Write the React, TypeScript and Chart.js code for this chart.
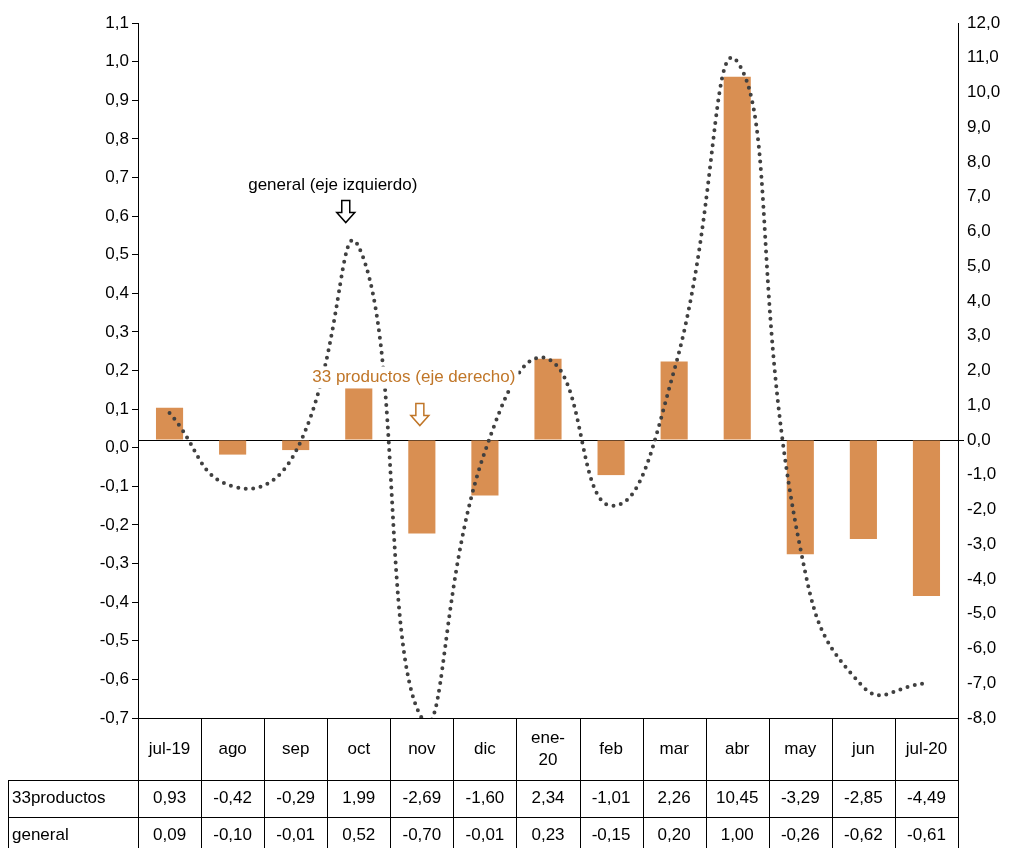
import React, { useEffect, useRef } from 'react';
import { Chart, registerables } from 'chart.js';

Chart.register(...registerables);

const categories = ['jul-19', 'ago', 'sep', 'oct', 'nov', 'dic', 'ene-20', 'feb', 'mar', 'abr', 'may', 'jun', 'jul-20'];
const headerLabels = [['jul-19'], ['ago'], ['sep'], ['oct'], ['nov'], ['dic'], ['ene-', '20'], ['feb'], ['mar'], ['abr'], ['may'], ['jun'], ['jul-20']];
const productos33 = [0.93, -0.42, -0.29, 1.99, -2.69, -1.6, 2.34, -1.01, 2.26, 10.45, -3.29, -2.85, -4.49];
const general = [0.09, -0.1, -0.01, 0.52, -0.7, -0.01, 0.23, -0.15, 0.2, 1.0, -0.26, -0.62, -0.61];

const FONT = '"Liberation Sans Narrow", "Arial Narrow", Arial, sans-serif';
const ORANGE = '#d98f52';
const fmt = (v: number, d: number) => v.toFixed(d).replace('.', ',');

const downArrow = (ctx: CanvasRenderingContext2D, x: number, y: number, color: string) => {
    ctx.beginPath();
    ctx.moveTo(x - 4, y);
    ctx.lineTo(x + 4, y);
    ctx.lineTo(x + 4, y + 12);
    ctx.lineTo(x + 9, y + 12);
    ctx.lineTo(x, y + 22);
    ctx.lineTo(x - 9, y + 12);
    ctx.lineTo(x - 4, y + 12);
    ctx.closePath();
    ctx.fillStyle = '#fff';
    ctx.fill();
    ctx.strokeStyle = color;
    ctx.lineWidth = 1.5;
    ctx.stroke();
};

const overlay = {
    id: 'overlay',
    afterDatasetsDraw(chart: any) {
        const ctx = chart.ctx as CanvasRenderingContext2D;
        const { left, right, bottom } = chart.chartArea;
        const xs = chart.scales.x;
        const yl = chart.scales.yL;
        const yr = chart.scales.yR;
        ctx.save();
        ctx.font = `17px ${FONT}`;
        ctx.textAlign = 'center';
        ctx.textBaseline = 'middle';
        // annotations
        const ox = xs.getPixelForValue(3);
        ctx.fillStyle = '#000';
        ctx.fillText('general (eje izquierdo)', ox - 26, yl.getPixelForValue(0.68));
        downArrow(ctx, ox - 13, yl.getPixelForValue(0.64), '#000');
        const nx = xs.getPixelForValue(4);
        const ty = yr.getPixelForValue(1.8);
        const tw = ctx.measureText('33 productos (eje derecho)').width;
        ctx.fillStyle = '#fff';
        ctx.fillRect(nx - 8 - tw / 2 - 3, ty - 11, tw + 6, 22);
        ctx.fillStyle = '#c07628';
        ctx.fillText('33 productos (eje derecho)', nx - 8, ty);
        downArrow(ctx, nx - 2, yr.getPixelForValue(1.05), '#c07628');

        // table
        const step = (right - left) / categories.length;
        const r1 = bottom + 62;
        const r2 = r1 + 37;
        const r3 = r2 + 37;
        ctx.strokeStyle = '#000';
        ctx.lineWidth = 1;
        ctx.beginPath();
        for (let i = 0; i <= categories.length; i++) {
            const x = Math.round(left + i * step) + 0.5;
            ctx.moveTo(x, bottom);
            ctx.lineTo(x, r3);
        }
        ctx.moveTo(left, bottom + 0.5);
        ctx.lineTo(right, bottom + 0.5);
        ctx.moveTo(8.5, r1);
        ctx.lineTo(8.5, r3);
        [r1, r2, r3].forEach((y) => {
            ctx.moveTo(8, y + 0.5);
            ctx.lineTo(right, y + 0.5);
        });
        ctx.stroke();
        ctx.fillStyle = '#000';
        headerLabels.forEach((lines, i) => {
            const cx = left + (i + 0.5) * step;
            const cy = bottom + 31;
            lines.forEach((t, j) => ctx.fillText(t, cx, cy + (j - (lines.length - 1) / 2) * 22));
            ctx.fillText(fmt(productos33[i], 2), cx, (r1 + r2) / 2);
            ctx.fillText(fmt(general[i], 2), cx, (r2 + r3) / 2);
        });
        ctx.textAlign = 'left';
        ctx.fillText('33productos', 12, (r1 + r2) / 2);
        ctx.fillText('general', 12, (r2 + r3) / 2);
        ctx.restore();
    },
};

export default function App() {
    const canvas = useRef<HTMLCanvasElement>(null);

    useEffect(() => {
        document.body.style.margin = '0';
        const chart = new Chart(canvas.current!, {
            type: 'bar',
            data: {
                labels: categories,
                datasets: [
                    {
                        type: 'line',
                        data: general,
                        yAxisID: 'yL',
                        borderColor: '#404040',
                        borderWidth: 4,
                        borderDash: [0, 7.5],
                        borderCapStyle: 'round',
                        tension: 0.5,
                        pointRadius: 0,
                        fill: false,
                        order: 0,
                    } as any,
                    {
                        type: 'bar',
                        data: productos33,
                        yAxisID: 'yR',
                        backgroundColor: ORANGE,
                        categoryPercentage: 1,
                        barPercentage: 0.43,
                        order: 1,
                    },
                ],
            },
            options: {
                animation: false,
                responsive: false,
                layout: { padding: { top: 23, bottom: 130, left: 0, right: 0 } },
                elements: { line: { capBezierPoints: false } as any },
                plugins: { legend: { display: false }, tooltip: { enabled: false } },
                scales: {
                    x: { display: false },
                    yL: {
                        position: 'left',
                        min: -0.7,
                        max: 1.1,
                        ticks: { stepSize: 0.1, color: '#000', font: { family: FONT, size: 17 }, callback: (v: any) => fmt(Number(v), 1) },
                        grid: { drawOnChartArea: false, tickLength: 6, color: '#000' },
                        border: { color: '#000' },
                        afterFit: (s: any) => { s.width = 138; },
                    },
                    yR: {
                        position: 'right',
                        min: -8,
                        max: 12,
                        ticks: { stepSize: 1, color: '#000', font: { family: FONT, size: 17 }, callback: (v: any) => fmt(Number(v), 1) },
                        grid: {
                            tickLength: 6,
                            color: (c: any) => (c.tick && c.tick.value === 0 ? '#000' : 'rgba(0,0,0,0)'),
                        },
                        border: { color: '#000' },
                        afterFit: (s: any) => { s.width = 62; },
                    },
                },
            },
            plugins: [overlay],
        });
        return () => chart.destroy();
    });

    return <canvas ref={canvas} width={1020} height={848}></canvas>;
}
